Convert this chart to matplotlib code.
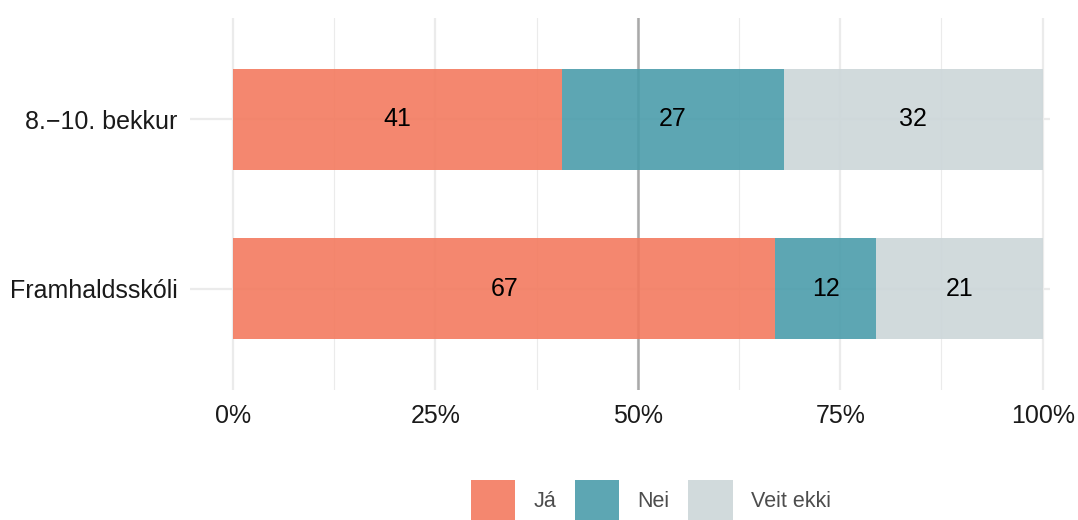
import matplotlib
matplotlib.use("Agg")
import matplotlib.pyplot as plt
from matplotlib.patches import Patch
from matplotlib.ticker import FixedLocator

plt.rcParams["font.family"] = ["Liberation Sans", "DejaVu Sans"]

# data (shares in %)
groups = ["Framhaldsskóli", "8.\u221210. bekkur"]
answers = ["Já", "Nei", "Veit ekki"]
ja = [67.0, 40.6]
nei = [12.4, 27.4]
veit_ekki = [20.6, 32.0]
x_ticks = [0, 25, 50, 75, 100]
x_tick_labels = ["0%", "25%", "50%", "75%", "100%"]

colors = ["#F37A5F", "#4B9DAB", "#CCD6D9"]
GRID = "#EBEBEB"
FS = 18
LEG_FS = 15.5

fig = plt.figure(figsize=(10.78, 5.2), dpi=100)
ax = fig.add_axes([190 / 1078, 1 - 390 / 520, 860 / 1078, 372 / 520])

ypos = [1, 2]
left = [0.0, 0.0]
for vals, col in zip([ja, nei, veit_ekki], colors):
    ax.barh(ypos, vals, left=left, height=0.6, color=col, alpha=0.9,
            linewidth=0, zorder=3)
    for y, l, v in zip(ypos, left, vals):
        ax.text(l + v / 2, y, f"{round(v)}", ha="center", va="center",
                fontsize=FS, color="black", zorder=4)
    left = [l + v for l, v in zip(left, vals)]

ax.axvline(50, color="#A9A9A9", linewidth=1.8, zorder=2)

ax.set_xlim(-5.3, 100.9)
ax.set_ylim(0.4, 2.6)
ax.set_xticks(x_ticks)
ax.set_xticklabels(x_tick_labels)
ax.xaxis.set_minor_locator(FixedLocator([12.5, 37.5, 62.5, 87.5]))
ax.set_yticks(ypos)
ax.set_yticklabels(groups)
ax.tick_params(axis="both", which="both", length=0, labelsize=FS,
               colors="#1A1A1A")
ax.tick_params(axis="x", pad=10)
ax.tick_params(axis="y", pad=9)
ax.grid(True, which="major", color=GRID, linewidth=1.6, zorder=0)
ax.grid(True, which="minor", axis="x", color=GRID, linewidth=0.8, zorder=0)
ax.set_axisbelow(True)
for s in ax.spines.values():
    s.set_visible(False)

handles = [Patch(facecolor=c, alpha=0.9, edgecolor="none", label=a)
           for c, a in zip(colors, answers)]
fig.legend(handles=handles, loc="center", ncol=3,
           bbox_to_anchor=(651 / 1078, 1 - 500 / 520), frameon=False,
           fontsize=LEG_FS, labelcolor="#4D4D4D", handlelength=2.05,
           handleheight=2.5, handletextpad=0.84, columnspacing=0.88)

fig.savefig("out.png", dpi=100)
